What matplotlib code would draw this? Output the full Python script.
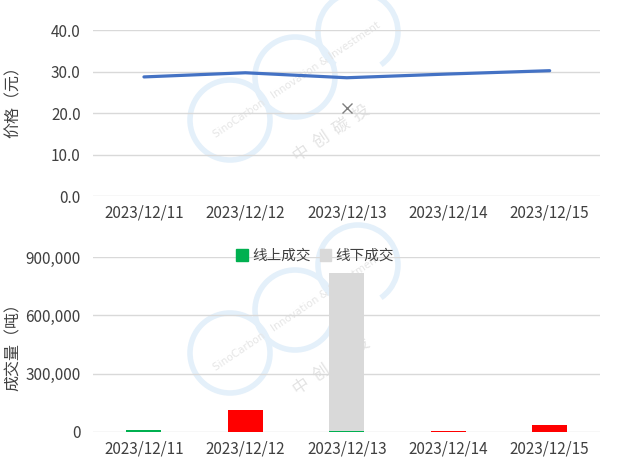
import numpy as np
import matplotlib.pyplot as plt
from matplotlib.patches import Patch, Circle, Arc

plt.rcParams['font.family'] = ['Liberation Sans Narrow', 'Noto Sans CJK SC', 'DejaVu Sans']

dates = ['2023/12/11', '2023/12/12', '2023/12/13', '2023/12/14', '2023/12/15']
price = [28.7, 29.7, 28.5, 29.4, 30.2]
offline_price = [np.nan, np.nan, 21.2, np.nan, np.nan]
online_vol = [10000, 113000, 5000, 5000, 37500]
offline_vol = [0, 0, 814000, 0, 0]

ONLINE_COLORS = ['#00B050', '#FF0000', '#00B050', '#FF0000', '#FF0000']
LINE = '#4472C4'
GREY = '#D9D9D9'
GRID = '#D9D9D9'
TXT = '#404040'
WM = '#E4F0FA'
CJK = ['Noto Sans CJK SC', 'DejaVu Sans']

fig = plt.figure(figsize=(6.3, 4.69), dpi=100)

# watermark layer in pixel coordinates, behind the charts
wm = fig.add_axes([0, 0, 1, 1], zorder=-1)
wm.set_xlim(0, 630)
wm.set_ylim(469, 0)
wm.axis('off')
for dy in (0, 233):
    wm.add_patch(Circle((230, 120 + dy), 40, fill=False, edgecolor=WM, linewidth=4))
    wm.add_patch(Circle((295, 77 + dy), 40, fill=False, edgecolor=WM, linewidth=4))
    wm.add_patch(Arc((358, 32 + dy), 80, 80, theta1=125, theta2=415,
                     edgecolor=WM, linewidth=4))
    wm.text(297, 80 + dy, 'SinoCarbon   Innovation & Investment', rotation=34,
            ha='center', va='center', fontsize=7.5, color='#E6E6E6',
            family='DejaVu Sans', rotation_mode='anchor')
    wm.text(332, 133 + dy, '中  创  碳  投', rotation=34, ha='center', va='center',
            fontsize=12, color='#E3E3E3', family=CJK, rotation_mode='anchor')

ax1 = fig.add_axes([0.148, 0.582, 0.805, 0.354])
ax2 = fig.add_axes([0.148, 0.079, 0.805, 0.373])

x = np.arange(len(dates))

# --- price line ---
ax1.plot(x, price, color=LINE, linewidth=2.3, solid_capstyle='round', zorder=3)
ax1.plot(x, offline_price, linestyle='none', marker='x', markersize=6.5,
         color='#7F7F7F', markeredgewidth=1.0, zorder=3)
ax1.set_ylim(0, 40)
ax1.set_yticks([0, 10, 20, 30, 40])
ax1.set_yticklabels([f'{v:.1f}' for v in [0, 10, 20, 30, 40]])
ax1.set_ylabel('价格（元）', family=CJK, fontsize=11.5, color=TXT)
ax1.yaxis.set_label_coords(-0.14, 0.59)

# --- volume bars ---
w = 0.345
ax2.bar(x, online_vol, width=w, color=ONLINE_COLORS, zorder=3)
ax2.bar(x, offline_vol, width=w, bottom=online_vol, color=GREY, zorder=3)
ax2.set_ylim(0, 900000)
ax2.set_yticks([0, 300000, 600000, 900000])
ax2.set_yticklabels([f'{v:,}' for v in [0, 300000, 600000, 900000]])
ax2.set_ylabel('成交量（吨）', family=CJK, fontsize=11.5, color=TXT)
ax2.yaxis.set_label_coords(-0.14, 0.51)
handles = [Patch(color='#00B050', label='线上成交'), Patch(color=GREY, label='线下成交')]
ax2.legend(handles=handles, loc='center', bbox_to_anchor=(0.438, 1.005), ncol=2,
           frameon=False, prop={'family': CJK, 'size': 10.5}, labelcolor=TXT,
           handlelength=0.8, handleheight=0.8, handletextpad=0.3, columnspacing=0.6)

for ax in (ax1, ax2):
    ax.set_facecolor('none')
    ax.set_xlim(-0.5, len(dates) - 0.5)
    ax.set_xticks(x)
    ax.set_xticklabels(dates)
    ax.grid(True, axis='y', color=GRID, linewidth=1.0, zorder=0)
    ax.set_axisbelow(True)
    for s in ax.spines.values():
        s.set_visible(False)
    ax.tick_params(length=0, labelsize=11, colors=TXT)
    ax.tick_params(axis='y', pad=9)
    ax.tick_params(axis='x', pad=6)

fig.savefig('out.png', dpi=100, facecolor='white')
